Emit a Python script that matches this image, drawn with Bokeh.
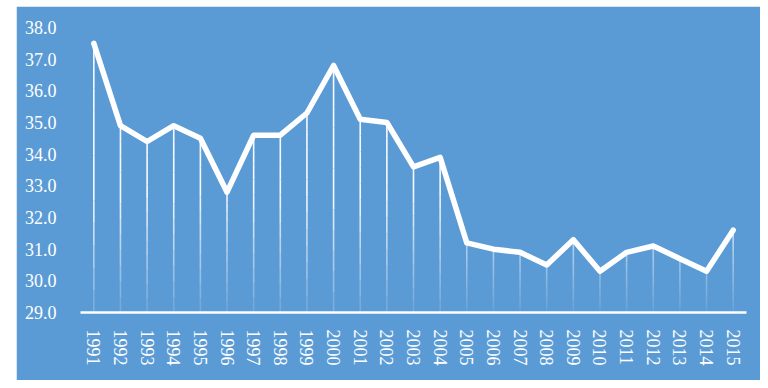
from bokeh.plotting import figure
from bokeh.models import Range1d, ColumnDataSource, CustomJSTickFormatter
from bokeh.embed import file_html
from bokeh.resources import INLINE

years = [str(y) for y in range(1991, 2016)]
values = [37.5, 34.9, 34.4, 34.9, 34.5, 32.8, 34.6, 34.6, 35.3, 36.8,
          35.1, 35.0, 33.6, 33.9, 31.2, 31.0, 30.9, 30.5, 31.3, 30.3,
          30.9, 31.1, 30.7, 30.3, 31.6]
y_min, y_max = 29.0, 38.0
y_ticks = [29, 30, 31, 32, 33, 34, 35, 36, 37, 38]

BLUE = "#5B9BD5"
FONT = "Liberation Serif"

p = figure(x_range=years, y_range=Range1d(y_min, y_max),
           width=744, height=374, margin=(6, 0, 0, 16),
           output_backend="svg", toolbar_location=None,
           background_fill_color=BLUE, border_fill_color=BLUE,
           min_border_left=64, min_border_right=14,
           min_border_top=21, min_border_bottom=68)
p.outline_line_color = BLUE
p.outline_line_width = 2
p.grid.visible = False

# drop lines with a fading gradient towards the axis
n_pieces = 12
x0s, y0s, y1s, alphas = [], [], [], []
for yr, v in zip(years, values):
    for i in range(n_pieces):
        a = y_min + (v - y_min) * i / n_pieces
        b = y_min + (v - y_min) * (i + 1) / n_pieces
        x0s.append(yr)
        y0s.append(a)
        y1s.append(b)
        frac = (b - y_min) / (y_max - y_min)
        alphas.append(min(0.95, 0.05 + 2.0 * frac))
src = ColumnDataSource(dict(x=x0s, y0=y0s, y1=y1s, a=alphas))
p.segment(x0="x", y0="y0", x1="x", y1="y1", source=src,
          line_color="white", line_width=1.6, line_alpha="a")

p.line(years, values, line_color="white", line_width=5.5,
       line_join="round", line_cap="round")

p.xaxis.axis_line_color = "white"
p.xaxis.axis_line_width = 2.5
p.xaxis.major_tick_line_color = None
p.xaxis.minor_tick_line_color = None
p.xaxis.major_label_orientation = "vertical"
p.xaxis.major_label_standoff = 11
p.xaxis.major_label_text_color = "white"
p.xaxis.major_label_text_font = FONT
p.xaxis.major_label_text_font_size = "18px"

p.yaxis.ticker = y_ticks
p.yaxis.formatter = CustomJSTickFormatter(code="return tick.toFixed(1);")
p.yaxis.axis_line_color = None
p.yaxis.major_tick_line_color = None
p.yaxis.minor_tick_line_color = None
p.yaxis.major_label_standoff = 18
p.yaxis.major_label_text_color = "white"
p.yaxis.major_label_text_font = FONT
p.yaxis.major_label_text_font_size = "18px"

open("out.html", "w").write(file_html(p, INLINE))
